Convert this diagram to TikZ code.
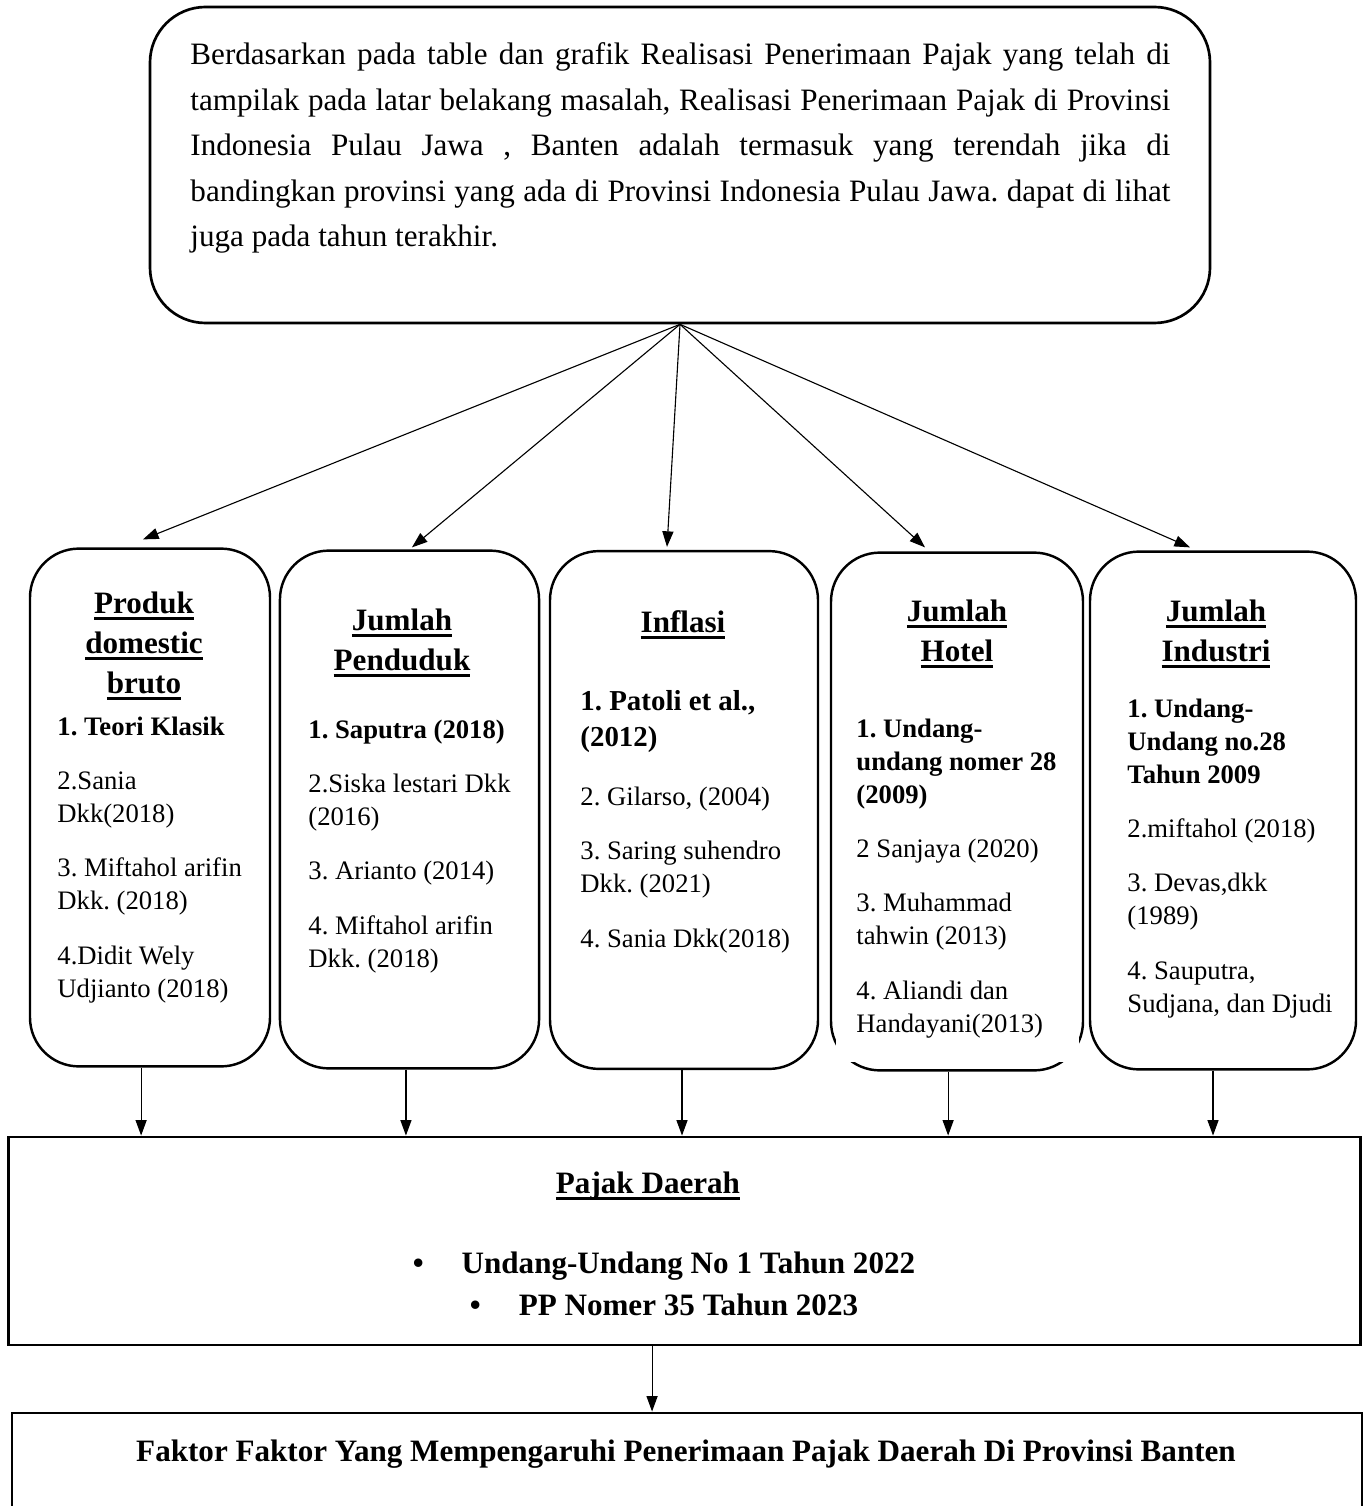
\documentclass[tikz,border=0pt]{standalone}
\usepackage{fontspec}
\setmainfont{Liberation Serif}
\usepackage{tikz}
\usetikzlibrary{arrows.meta,positioning}
\frenchspacing
\tikzstyle{probbox} = [rectangle, rounded corners=25pt, draw=black, line width=1.2pt, minimum width=477pt, minimum height=142.2pt]
\tikzstyle{factorbox} = [rectangle, rounded corners=22pt, draw=black, line width=1.1pt, minimum height=233pt]
\tikzstyle{resultbox} = [rectangle, draw=black, line width=1.3pt, minimum width=608pt]
\tikzstyle{arrow} = [->, >={Triangle[length=7pt,width=5pt]}, line width=0.5pt]
\tikzstyle{headtext} = [anchor=base, align=center, inner sep=0pt, font=\fontsize{14}{18}\selectfont\bfseries]
\tikzstyle{reftext} = [anchor=base west, align=left, inner sep=0pt, font=\fontsize{12}{14.85}\selectfont]
\newcommand{\headul}[1]{\setbox0\hbox{#1}\rlap{\rule[-3pt]{\wd0}{1.3pt}}\box0}
\newcommand{\jline}[1]{\makebox[441pt][s]{#1}}
\newcommand{\blt}{\makebox[22pt][l]{•}}

\begin{document}
\begin{tikzpicture}[x=0.45pt, y=-0.45pt]
\useasboundingbox (0,0) rectangle (1367,1506);
\clip (0,0) rectangle (1367,1506);

% text nodes are anchored at the baseline of their last line
\node (prob) [probbox] at (680,165) {};
\node (probtext) [anchor=base west, align=left, inner sep=0pt, font=\fontsize{14}{20.5}\selectfont] at (190,247) {\jline{Berdasarkan pada table dan grafik Realisasi Penerimaan Pajak yang telah di}\\\jline{tampilak pada latar belakang masalah, Realisasi Penerimaan Pajak di Provinsi}\\\jline{Indonesia Pulau Jawa , Banten adalah termasuk yang terendah jika di}\\\jline{bandingkan provinsi yang ada di Provinsi Indonesia Pulau Jawa. dapat di lihat}\\juga pada tahun terakhir.};

\node (pdb) [factorbox, minimum width=108pt] at (150,807.5) {};
\node (pend) [factorbox, minimum width=116.6pt] at (409.5,809.5) {};
\node (infl) [factorbox, minimum width=120.6pt] at (684,810) {};
\node (hotel) [factorbox, minimum width=113.4pt] at (957,811.5) {};
\node (indus) [factorbox, minimum width=119.7pt] at (1223,810.5) {};
\fill [white] (836,600) rectangle (1079,1062);

\node (pdbhead) [headtext] at (144,693) {\headul{Produk}\\\headul{domestic}\\\headul{bruto}};
\node (pendhead) [headtext] at (402,670) {\headul{Jumlah}\\\headul{Penduduk}};
\node (inflhead) [headtext] at (683,632) {\headul{Inflasi}};
\node (hotelhead) [headtext] at (957,661) {\headul{Jumlah}\\\headul{Hotel}};
\node (indushead) [headtext] at (1216,661) {\headul{Jumlah}\\\headul{Industri}};

\node (pdbref) [reftext] at (57,997) {\textbf{1. Teori Klasik}\\[9.6pt]2.Sania\\Dkk(2018)\\[9.6pt]3. Miftahol arifin\\Dkk. (2018)\\[9.6pt]4.Didit Wely\\Udjianto (2018)};
\node (pendref) [reftext] at (308,967) {\textbf{1. Saputra (2018)}\\[9.6pt]2.Siska lestari Dkk\\(2016)\\[9.6pt]3. Arianto (2014)\\[9.6pt]4. Miftahol arifin\\Dkk. (2018)};
\node (inflref) [reftext] at (580,947) {{\bfseries\fontsize{13}{16}\selectfont 1. Patoli et al.,}\\[1.4pt]{\bfseries\fontsize{13}{16}\selectfont (2012)}\\[11.7pt]2. Gilarso, (2004)\\[9.6pt]3. Saring suhendro\\Dkk. (2021)\\[9.6pt]4. Sania Dkk(2018)};
\node (hotelref) [reftext] at (856,1032) {\textbf{1. Undang-}\\\textbf{undang nomer 28}\\\textbf{(2009)}\\[9.6pt]2 Sanjaya (2020)\\[9.6pt]3. Muhammad\\tahwin (2013)\\[9.6pt]4. Aliandi dan\\Handayani(2013)};
\node (indusref) [reftext] at (1127,1012) {\textbf{1. Undang-}\\\textbf{Undang no.28}\\\textbf{Tahun 2009}\\[9.6pt]2.miftahol (2018)\\[9.6pt]3. Devas,dkk\\(1989)\\[9.6pt]4. Sauputra,\\Sudjana, dan Djudi};

\node (pajak) [resultbox, minimum height=93.6pt] at (684.5,1241) {};
\node (pajakhead) [headtext] at (648,1193) {\headul{Pajak Daerah}};
\node (pajaklaw) [headtext, font=\fontsize{14}{18.9}\selectfont\bfseries] at (664,1315) {\blt Undang-Undang No 1 Tahun 2022\\\blt PP Nomer 35 Tahun 2023};

\node (faktor) [resultbox, minimum width=607.5pt, minimum height=67.5pt] at (687,1488) {};
\node (faktortext) [headtext] at (686,1461) {Faktor Faktor Yang Mempengaruhi Penerimaan Pajak Daerah Di Provinsi Banten};

\draw [arrow] (prob.south) -- ([xshift=-3.15pt,yshift=3.6pt]pdb.north);
\draw [arrow] (prob.south) -- ([xshift=1.1pt,yshift=0.9pt]pend.north);
\draw [arrow] (prob.south) -- ([xshift=-7.65pt,yshift=1.35pt]infl.north);
\draw [arrow] (prob.south) -- ([xshift=-14.4pt,yshift=1.8pt]hotel.north);
\draw [arrow] (prob.south) -- ([xshift=-14.85pt,yshift=1.35pt]indus.north);

\draw [arrow] ([xshift=-4pt]pdb.south) -- ([xshift=-4pt]pdb.south |- pajak.north);
\draw [arrow] ([xshift=-1.6pt]pend.south) -- ([xshift=-1.6pt]pend.south |- pajak.north);
\draw [arrow] ([xshift=-0.9pt]infl.south) -- ([xshift=-0.9pt]infl.south |- pajak.north);
\draw [arrow] ([xshift=-4pt]hotel.south) -- ([xshift=-4pt]hotel.south |- pajak.north);
\draw [arrow] ([xshift=-4.5pt]indus.south) -- ([xshift=-4.5pt]indus.south |- pajak.north);
\draw [arrow] ([xshift=-14.6pt]pajak.south) -- ([xshift=-14.6pt]pajak.south |- faktor.north);
\end{tikzpicture}
\end{document}
